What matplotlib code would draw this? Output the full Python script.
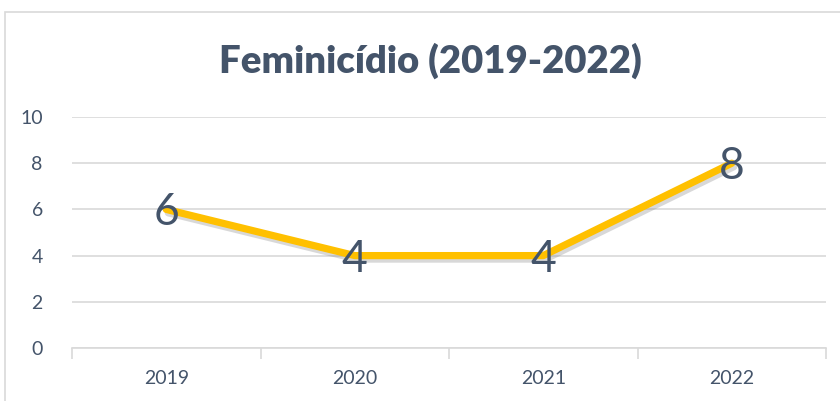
import matplotlib
matplotlib.use('Agg')
import matplotlib.pyplot as plt
import matplotlib.patheffects as pe
from matplotlib.patches import Rectangle

years = ['2019', '2020', '2021', '2022']
casos = [6, 4, 4, 8]
y_ticks = [0, 2, 4, 6, 8, 10]

text_color = '#44546A'
grid_color = '#D9D9D9'
line_color = '#FFC000'

plt.rcParams['font.family'] = ['Lato', 'DejaVu Sans']

fig = plt.figure(figsize=(8.4, 4.01), dpi=100)
fig.patch.set_facecolor('white')

# chart frame (cut off on the right and bottom)
fig.patches.append(Rectangle((5 / 840, -0.1), 1.2, 1.1 - 12 / 401,
                             transform=fig.transFigure, fill=False,
                             edgecolor=grid_color, linewidth=1.2))

ax = fig.add_axes([72 / 840, 1 - 348 / 401, 754 / 840, 231 / 401])
x = list(range(len(years)))

ax.plot(x, casos, color=line_color, linewidth=5.2, solid_capstyle='round',
        path_effects=[pe.SimpleLineShadow(offset=(1.5, -2.5), shadow_color='gray', alpha=0.3),
                      pe.Normal()], zorder=3)

# data labels centered on the points
for xi, v in zip(x, casos):
    ax.text(xi, v - 0.15, str(v), ha='center', va='center',
            fontsize=32, color=text_color, zorder=4)

ax.set_xlim(-0.5, len(years) - 0.5)
ax.set_ylim(0, 10)
ax.set_yticks(y_ticks)
ax.set_yticklabels([str(t) for t in y_ticks])
ax.grid(axis='y', color=grid_color, linewidth=1.2)
ax.set_axisbelow(True)

# tick marks between categories, labels at centres
ax.set_xticks([i - 0.5 for i in range(len(years) + 1)])
ax.set_xticklabels([''] * (len(years) + 1))
ax.set_xticks(x, minor=True)
ax.set_xticklabels(years, minor=True)
ax.tick_params(axis='x', which='major', length=8, color=grid_color, width=1.2)
ax.tick_params(axis='x', which='minor', length=0, pad=16, labelsize=14, labelcolor=text_color)
ax.tick_params(axis='y', length=0, pad=21, labelsize=14, labelcolor=text_color)

for s in ['top', 'right', 'left']:
    ax.spines[s].set_visible(False)
ax.spines['bottom'].set_color(grid_color)
ax.spines['bottom'].set_linewidth(1.2)

fig.text(430 / 840, 1 - 61 / 401, 'Feminicídio (2019-2022)', ha='center', va='center',
         fontsize=27.5, fontweight='heavy', color=text_color)

fig.savefig('out.png', dpi=100)
